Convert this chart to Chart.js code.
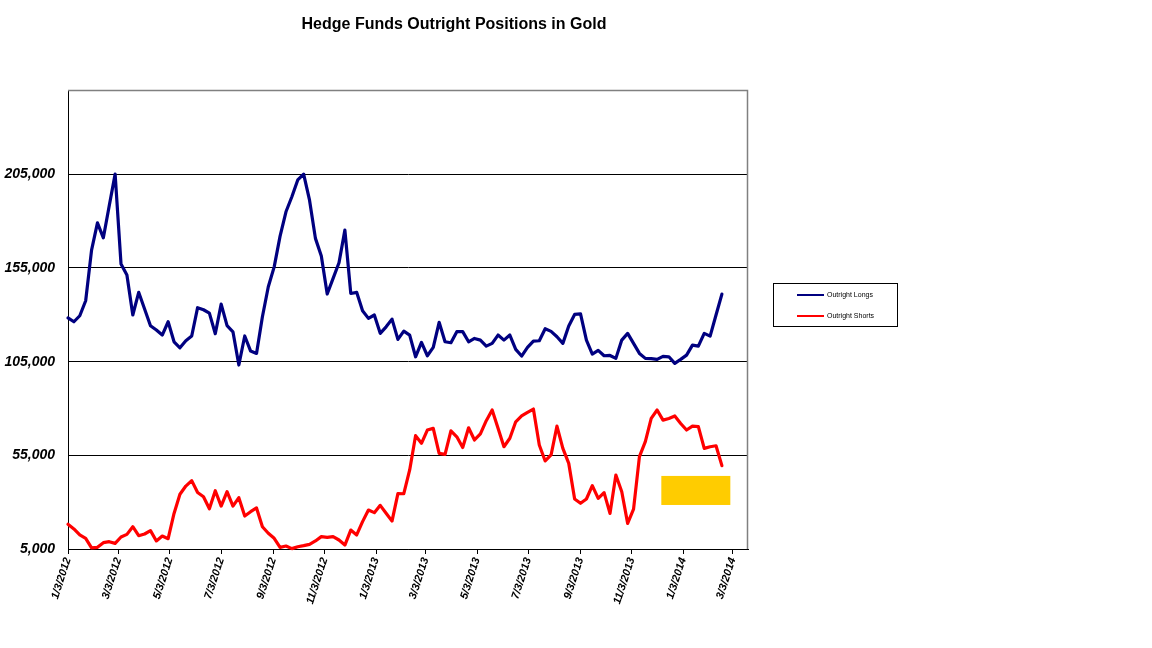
<!DOCTYPE html>
<html>
<head>
<meta charset="utf-8">
<script src="https://cdn.jsdelivr.net/npm/chart.js@4/dist/chart.umd.min.js"></script>
<style>
  html, body { margin: 0; padding: 0; background: #fff; }
  #wrap { width: 1152px; height: 648px; position: relative; }
</style>
</head>
<body>
<div id="wrap"><canvas id="c" width="1152" height="648"></canvas></div>
<script>
// ---- data ----
const chartTitle = 'Hedge Funds Outright Positions in Gold';
const firstWeek = '1/3/2012';           // weekly observations (Tuesdays) start here
const axisEnd = '3/21/2014';            // right end of the date axis
const xTickLabels = ['1/3/2012','3/3/2012','5/3/2012','7/3/2012','9/3/2012','11/3/2012','1/3/2013',
                     '3/3/2013','5/3/2013','7/3/2013','9/3/2013','11/3/2013','1/3/2014','3/3/2014'];
const yTickValues = [5000, 55000, 105000, 155000, 205000];
const yMin = 5000, yMax = 250000;

const outrightLongs = [
  128400,126300,129500,137500,164500,179100,171100,188200,205100,157100,
  151200,129900,142000,133100,124200,121900,119200,126300,115600,112400,
  116200,118700,133800,132700,130900,119900,135700,124200,120950,103200,
  118700,110650,109400,129000,145000,155600,172000,185000,193000,202000,
  205100,191200,170800,161350,141100,149450,157800,175200,141400,142000,
  132150,128100,129900,120100,123600,127700,116900,121300,119200,107600,
  115300,108150,112600,126000,115600,115100,121000,121000,115600,117400,
  116500,113300,114750,119200,116500,119200,111550,108000,112600,116000,
  116150,122550,121150,118300,114750,124000,130200,130550,116500,109050,
  111000,108150,108300,106750,116500,120100,114750,109400,106750,106600,
  106200,107800,107600,104100,106200,108500,113850,113300,120100,118650,
  129900,141050
];
const outrightShorts = [
  18200,15700,12500,10700,5600,5900,8400,8900,8000,11400,
  12800,16900,12100,13000,14800,9300,11900,10500,24000,34200,
  38600,41500,35200,32900,26500,36100,27900,35600,27900,32400,
  22600,24900,26900,16900,13400,10700,5900,6600,5200,6200,
  6800,7500,9300,11600,11200,11600,9800,7100,15100,12500,
  19600,25800,24400,28300,24100,19900,34600,34500,47200,65500,
  61400,68500,69400,56000,55500,68100,64900,59200,69700,63200,
  66400,73500,79200,69400,59600,64100,72900,76000,77900,79700,
  60500,52000,55200,70600,58700,50700,31700,29400,31700,38800,
  32000,35100,24000,44500,35600,18700,26300,54300,62300,74700,
  79200,73800,74700,76000,72000,68500,70600,70300,58700,59600,
  60100,49500
];
// highlighted block (drawn in data units)
const highlight = { from: '12/8/2013', to: '2/28/2014', low: 28500, high: 44000, color: '#FFCC00' };

// ---- helpers ----
function dayNum(s) {
  const [m, d, y] = s.split('/').map(Number);
  return Date.UTC(y, m - 1, d) / 86400000;
}
const day0 = dayNum(firstWeek);
const toX = s => dayNum(s) - day0;
const pts = arr => arr.map((v, i) => ({ x: i * 7, y: v }));

const FONT = '"Liberation Sans", Arial, sans-serif';

const decor = {
  id: 'decor',
  beforeDatasetsDraw(chart) {
    const { ctx, chartArea: a, scales: { x, y } } = chart;
    ctx.save();
    const x1 = x.getPixelForValue(toX(highlight.from));
    const x2 = x.getPixelForValue(toX(highlight.to));
    const y1 = y.getPixelForValue(highlight.high);
    const y2 = y.getPixelForValue(highlight.low);
    ctx.fillStyle = highlight.color;
    ctx.fillRect(x1, y1, x2 - x1, y2 - y1);
    ctx.strokeStyle = '#808080';
    ctx.lineWidth = 1.5;
    ctx.beginPath();
    ctx.moveTo(a.left, a.top + 0.5);
    ctx.lineTo(a.right - 0.5, a.top + 0.5);
    ctx.lineTo(a.right - 0.5, a.bottom);
    ctx.stroke();
    ctx.restore();
  },
  afterDraw(chart) {
    const { ctx } = chart;
    ctx.save();
    ctx.fillStyle = '#000';
    ctx.font = 'bold 16px ' + FONT;
    ctx.textAlign = 'center';
    ctx.textBaseline = 'alphabetic';
    ctx.fillText(chartTitle, 454, 29);
    const lx = 773.5, ly = 283.5, lw = 124, lh = 43;
    ctx.strokeStyle = '#000';
    ctx.lineWidth = 1;
    ctx.strokeRect(lx, ly, lw, lh);
    ctx.font = '7px ' + FONT;
    ctx.textAlign = 'left';
    ctx.textBaseline = 'middle';
    chart.data.datasets.forEach((ds, i) => {
      const yy = ly + 11.5 + i * 21;
      ctx.strokeStyle = ds.borderColor;
      ctx.lineWidth = 2;
      ctx.beginPath();
      ctx.moveTo(797, yy);
      ctx.lineTo(824, yy);
      ctx.stroke();
      ctx.fillStyle = '#000';
      ctx.fillText(ds.label, 827, yy);
    });
    ctx.restore();
  }
};

new Chart(document.getElementById('c'), {
  type: 'line',
  data: {
    datasets: [
      { label: 'Outright Longs', data: pts(outrightLongs), borderColor: '#000080', backgroundColor: '#000080',
        borderWidth: 3.2, borderJoinStyle: 'round', borderCapStyle: 'round', pointRadius: 0, tension: 0, clip: 6 },
      { label: 'Outright Shorts', data: pts(outrightShorts), borderColor: '#FF0000', backgroundColor: '#FF0000',
        borderWidth: 3.2, borderJoinStyle: 'round', borderCapStyle: 'round', pointRadius: 0, tension: 0, clip: 6 }
    ]
  },
  options: {
    responsive: false,
    animation: false,
    devicePixelRatio: 1,
    layout: { padding: { top: 90, right: 404, left: 0, bottom: 0 } },
    plugins: { legend: { display: false }, title: { display: false }, tooltip: { enabled: false } },
    scales: {
      x: {
        type: 'linear',
        min: 0,
        max: toX(axisEnd),
        afterFit(s) { s.height = 99; },
        afterBuildTicks(s) { s.ticks = xTickLabels.map(l => ({ value: toX(l) })); },
        grid: { drawOnChartArea: false, drawTicks: true, tickLength: 5, color: '#000', lineWidth: 1 },
        border: { display: true, color: '#000', width: 1 },
        ticks: {
          autoSkip: false,
          minRotation: 72, maxRotation: 72,
          padding: 2,
          color: '#000',
          font: { family: FONT, size: 11, weight: 'bold', style: 'italic' },
          callback: (v, i) => xTickLabels[i]
        }
      },
      y: {
        type: 'linear',
        min: yMin,
        max: yMax,
        afterFit(s) { s.width = 68; },
        afterBuildTicks(s) { s.ticks = yTickValues.map(v => ({ value: v })); },
        grid: { drawTicks: false, color: '#000', lineWidth: 1 },
        border: { display: true, color: '#000', width: 1 },
        ticks: {
          padding: 13,
          color: '#000',
          font: { family: FONT, size: 14, weight: 'bold', style: 'italic' },
          callback: v => v.toLocaleString('en-US')
        }
      }
    }
  },
  plugins: [decor]
});
</script>
</body>
</html>
